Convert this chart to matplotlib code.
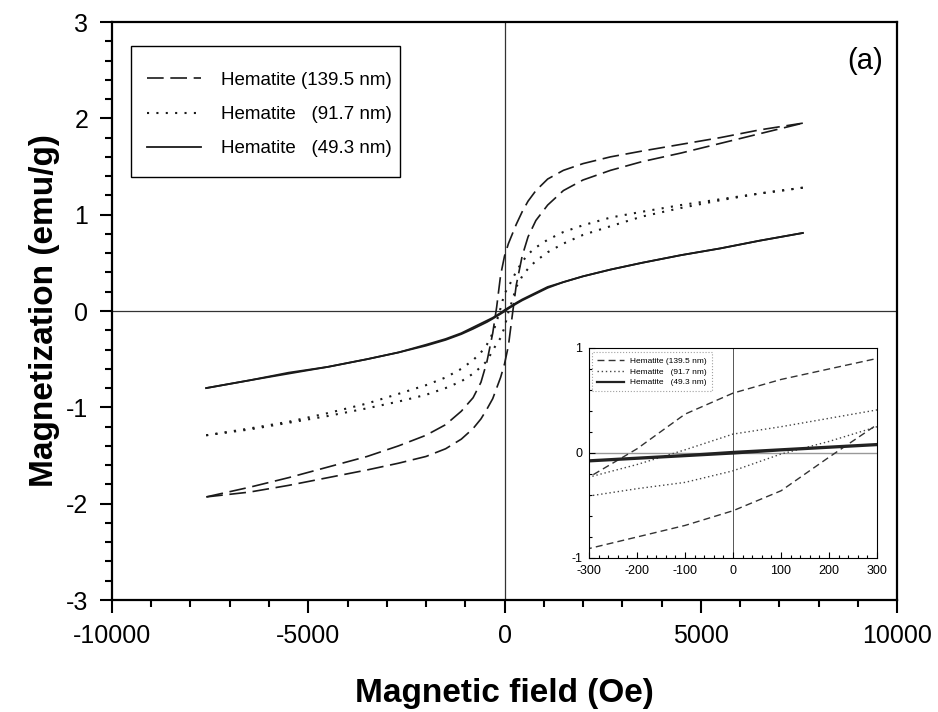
import numpy as np
import matplotlib
matplotlib.use('Agg')
import matplotlib.pyplot as plt
from matplotlib.ticker import MultipleLocator
from matplotlib.patches import Rectangle

plt.rcParams['font.family'] = ['Liberation Sans', 'DejaVu Sans']
plt.rcParams['axes.unicode_minus'] = False

# field grid (Oe) for the descending branch (from +H) and the ascending branch (from -H)
H_down = [7600, 6500, 5500, 4500, 3500, 2700, 2000, 1500, 1100, 800, 600, 450, 300, 200, 100, 0,
          -100, -200, -300, -450, -600, -800, -1100, -1500, -2000, -2700, -3500, -4500, -5500, -6500, -7600]
H_up = [-7600, -6500, -5500, -4500, -3500, -2700, -2000, -1500, -1100, -800, -600, -450, -300, -200, -100, 0,
        100, 200, 300, 450, 600, 800, 1100, 1500, 2000, 2700, 3500, 4500, 5500, 6500, 7600]

# magnetization (emu/g)
M_139_down = [1.95, 1.88, 1.80, 1.73, 1.66, 1.60, 1.53, 1.46, 1.37, 1.25, 1.14, 1.03, 0.90, 0.80, 0.70, 0.57,
              0.37, 0.04, -0.23, -0.53, -0.74, -0.90, -1.04, -1.18, -1.29, -1.40, -1.51, -1.62, -1.73, -1.83, -1.93]
M_139_up = [-1.93, -1.88, -1.81, -1.73, -1.65, -1.58, -1.51, -1.43, -1.33, -1.22, -1.12, -1.02, -0.91, -0.80, -0.69, -0.55,
            -0.36, -0.04, 0.27, 0.57, 0.77, 0.94, 1.10, 1.25, 1.36, 1.46, 1.55, 1.64, 1.74, 1.84, 1.95]

M_917_down = [1.28, 1.22, 1.16, 1.10, 1.03, 0.97, 0.89, 0.82, 0.74, 0.66, 0.59, 0.51, 0.41, 0.33, 0.25, 0.18,
              0.03, -0.11, -0.23, -0.35, -0.43, -0.51, -0.60, -0.69, -0.77, -0.86, -0.96, -1.06, -1.15, -1.22, -1.29]
M_917_up = [-1.29, -1.23, -1.16, -1.09, -1.01, -0.94, -0.87, -0.80, -0.73, -0.65, -0.58, -0.52, -0.41, -0.34, -0.28, -0.17,
            -0.01, 0.11, 0.25, 0.36, 0.44, 0.52, 0.61, 0.70, 0.79, 0.88, 0.98, 1.07, 1.15, 1.22, 1.28]

M_493_down = [0.81, 0.73, 0.65, 0.58, 0.50, 0.43, 0.36, 0.30, 0.25, 0.19, 0.15, 0.12, 0.085, 0.06, 0.035, 0.01,
              -0.02, -0.045, -0.07, -0.10, -0.13, -0.17, -0.23, -0.29, -0.35, -0.43, -0.50, -0.58, -0.64, -0.72, -0.80]
M_493_up = [-0.80, -0.72, -0.65, -0.58, -0.50, -0.43, -0.36, -0.30, -0.24, -0.185, -0.145, -0.115, -0.08, -0.055, -0.03, -0.005,
            0.025, 0.05, 0.075, 0.11, 0.14, 0.18, 0.24, 0.30, 0.36, 0.43, 0.50, 0.58, 0.65, 0.73, 0.81]

labels_main = ['Hematite (139.5 nm)', 'Hematite   (91.7 nm)', 'Hematite   (49.3 nm)']

ink = '#1a1a1a'
dash_main = (0, (10, 4))
dot_main = (0, (1.0, 3.5))

fig = plt.figure(figsize=(9.38, 7.12), dpi=100)
ax = fig.add_axes([0.1194, 0.1573, 0.8369, 0.8118])

ax.axhline(0, color='#333333', lw=0.9, zorder=1)
ax.axvline(0, color='#333333', lw=0.9, zorder=1)

l1, = ax.plot(H_down, M_139_down, color=ink, lw=1.2, linestyle=dash_main)
ax.plot(H_up, M_139_up, color=ink, lw=1.2, linestyle=dash_main)
l2, = ax.plot(H_down, M_917_down, color=ink, lw=1.5, linestyle=dot_main)
ax.plot(H_up, M_917_up, color=ink, lw=1.5, linestyle=dot_main)
l3, = ax.plot(H_down, M_493_down, color=ink, lw=1.3)
ax.plot(H_up, M_493_up, color=ink, lw=1.3)

ax.set_xlim(-10000, 10000)
ax.set_ylim(-3, 3)
ax.xaxis.set_major_locator(MultipleLocator(5000))
ax.xaxis.set_minor_locator(MultipleLocator(1000))
ax.yaxis.set_major_locator(MultipleLocator(1))
ax.yaxis.set_minor_locator(MultipleLocator(0.2))
ax.tick_params(which='both', direction='out', width=1.5, color='black', top=False, right=False)
ax.tick_params(which='major', length=9, labelsize=18, pad=8)
ax.tick_params(which='minor', length=5)
for s in ax.spines.values():
    s.set_linewidth(1.6)

ax.set_xlabel('Magnetic field (Oe)', fontsize=24, fontweight='bold', labelpad=22)
ax.set_ylabel('Magnetization (emu/g)', fontsize=24, fontweight='bold', labelpad=4)

ax.text(0.982, 0.957, '(a)', transform=ax.transAxes, ha='right', va='top', fontsize=21)

# legend without its own frame, the box is drawn separately
leg = ax.legend([l1, l2, l3], labels_main, loc='upper left', bbox_to_anchor=(0.0125, 0.958),
                borderaxespad=0, fontsize=13.5, frameon=False, handlelength=2.9,
                labelspacing=0.92, borderpad=1.35, handletextpad=1.05)
ax.add_patch(Rectangle((0.0242, 0.7318), 0.3427, 0.2267, transform=ax.transAxes,
                       fill=False, edgecolor='black', lw=1.0, zorder=5))

# inset: zoom on the low field region
axi = fig.add_axes([0.628, 0.2163, 0.307, 0.295])
axi.axhline(0, color='#999999', lw=1.0, zorder=1)
axi.axvline(0, color='#555555', lw=0.7, zorder=1)
dash_in = (0, (5, 3))
dot_in = (0, (1, 2))
i1, = axi.plot(H_down, M_139_down, color='#333333', lw=1.0, linestyle=dash_in)
axi.plot(H_up, M_139_up, color='#333333', lw=1.0, linestyle=dash_in)
i2, = axi.plot(H_down, M_917_down, color='#444444', lw=1.0, linestyle=dot_in)
axi.plot(H_up, M_917_up, color='#444444', lw=1.0, linestyle=dot_in)
i3, = axi.plot(H_down, M_493_down, color='#222222', lw=1.6)
axi.plot(H_up, M_493_up, color='#222222', lw=1.6)
axi.set_xlim(-300, 300)
axi.set_ylim(-1, 1)
axi.xaxis.set_major_locator(MultipleLocator(100))
axi.xaxis.set_minor_locator(MultipleLocator(20))
axi.yaxis.set_major_locator(MultipleLocator(1))
axi.yaxis.set_minor_locator(MultipleLocator(0.2))
axi.tick_params(which='both', direction='in', width=0.8, top=False, right=False)
axi.tick_params(which='major', length=4, labelsize=9, pad=5)
axi.tick_params(which='minor', length=2.5)
for s in axi.spines.values():
    s.set_linewidth(0.8)
ileg = axi.legend([i1, i2, i3], labels_main, loc='upper left', bbox_to_anchor=(0.01, 0.98),
                  borderaxespad=0, fontsize=6, frameon=True, fancybox=False, handlelength=3.2,
                  labelspacing=0.35, borderpad=0.6, handletextpad=0.8)
ileg.get_frame().set_edgecolor('#888888')
ileg.get_frame().set_linestyle(':')
ileg.get_frame().set_linewidth(0.8)

fig.savefig('out.png', dpi=100)
